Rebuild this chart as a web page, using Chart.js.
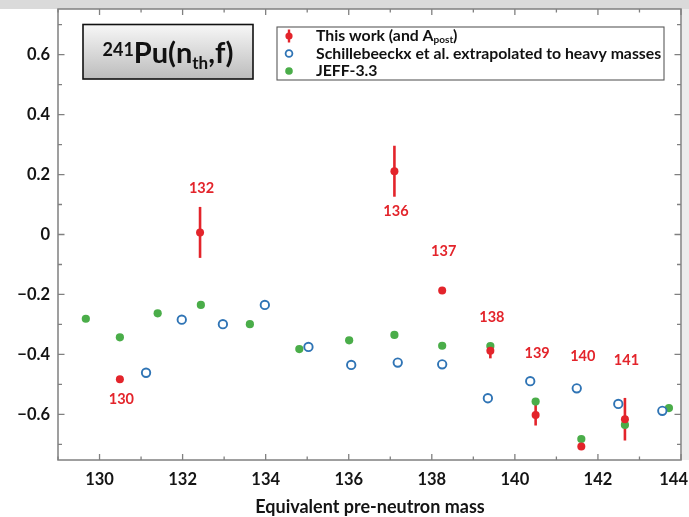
<!DOCTYPE html>
<html><head><meta charset="utf-8">
<script src="https://cdn.jsdelivr.net/npm/chart.js@4.4.1/dist/chart.umd.min.js"></script>
<style>html,body{margin:0;padding:0;background:#fff;overflow:hidden}#c{display:block}</style>
</head><body>
<canvas id="c" width="689" height="517"></canvas>
<script>
// ---- data ----
const thisWorkLabel = 'This work (and A_post)';
const thisWorkMass  = [130.49, 132.42, 137.10, 138.25, 139.41, 140.50, 141.60, 142.65];
const thisWorkValue = [-0.483, 0.007, 0.211, -0.187, -0.388, -0.602, -0.707, -0.616];
const thisWorkError = [0.006, 0.085, 0.085, 0.008, 0.025, 0.035, 0.008, 0.071];
const apostText     = ['130', '132', '136', '137', '138', '139', '140', '141'];
const apostLabelY   = [-0.549, 0.154, 0.076, -0.055, -0.277, -0.396, -0.407, -0.421];

const schLabel = 'Schillebeeckx et al. extrapolated to heavy masses';
const schMass  = [131.12, 131.98, 132.97, 133.98, 135.03, 136.06, 137.18, 138.25, 139.35, 140.37, 141.49, 142.49, 143.55];
const schValue = [-0.461, -0.284, -0.299, -0.235, -0.375, -0.435, -0.427, -0.433, -0.546, -0.489, -0.513, -0.565, -0.588];

const jeffLabel = 'JEFF-3.3';
const jeffMass  = [129.67, 130.49, 131.40, 132.44, 133.62, 134.81, 136.01, 137.10, 138.25, 139.41, 140.50, 141.60, 142.65, 143.71];
const jeffValue = [-0.281, -0.343, -0.263, -0.235, -0.299, -0.382, -0.353, -0.335, -0.371, -0.372, -0.557, -0.682, -0.635, -0.579];

const xTickValues = [130, 132, 134, 136, 138, 140, 142, 144];
const xTickLabels = ['130', '132', '134', '136', '138', '140', '142', '144'];
const yTickValues = [-0.6, -0.4, -0.2, 0, 0.2, 0.4, 0.6];
const yTickLabels = ['\u22120.6', '\u22120.4', '\u22120.2', '0', '0.2', '0.4', '0.6'];
const xAxisTitle = 'Equivalent pre-neutron mass';
const titleParts = [['241', 'sup'], ['Pu(n', 'main'], ['th', 'sub'], [',f)', 'main']];

// ---- style ----
const FONT = 'Lato, "Open Sans", "DejaVu Sans", sans-serif';
const RED = '#e3242b', BLUE = '#2f74b5', GREEN = '#4aad49', AXIS = '#808080', TXT = '#141414';

const pts = (xs, ys) => xs.map((x, i) => ({x: x, y: ys[i]}));

const deco = {
  id: 'deco',
  beforeDraw(chart) {
    const {ctx, width, height, chartArea: a} = chart;
    ctx.save();
    ctx.fillStyle = '#fff'; ctx.fillRect(0, 0, width, height);
    ctx.fillStyle = '#dadada'; ctx.fillRect(0, 0, width, a.top);
    ctx.fillStyle = '#ececec'; ctx.fillRect(a.right + 1, a.top, width - a.right, a.bottom - a.top);
    ctx.restore();
  },
  beforeDatasetsDraw(chart) {
    const {ctx} = chart, xs = chart.scales.x, ys = chart.scales.y;
    ctx.save();
    ctx.strokeStyle = RED; ctx.lineWidth = 2.6;
    thisWorkMass.forEach((m, i) => {
      const px = xs.getPixelForValue(m);
      ctx.beginPath();
      ctx.moveTo(px, ys.getPixelForValue(thisWorkValue[i] + thisWorkError[i]));
      ctx.lineTo(px, ys.getPixelForValue(thisWorkValue[i] - thisWorkError[i]));
      ctx.stroke();
    });
    ctx.restore();
  },
  afterDatasetsDraw(chart) {
    const {ctx} = chart, xs = chart.scales.x, ys = chart.scales.y;
    ctx.save();
    ctx.fillStyle = RED; ctx.font = 'bold 14.5px ' + FONT;
    ctx.textAlign = 'center'; ctx.textBaseline = 'middle';
    apostText.forEach((t, i) => {
      ctx.fillText(t, xs.getPixelForValue(thisWorkMass[i]) + 1.5, ys.getPixelForValue(apostLabelY[i]));
    });
    ctx.restore();
  },
  afterDraw(chart) {
    const {ctx, chartArea: a} = chart, xs = chart.scales.x, ys = chart.scales.y;
    ctx.save();
    // frame
    ctx.strokeStyle = AXIS; ctx.lineWidth = 1.5;
    ctx.strokeRect(a.left, a.top, a.right - a.left, a.bottom - a.top);
    // inward ticks
    ctx.lineWidth = 1.3;
    for (let v = Math.ceil(xs.min); v <= xs.max + 1e-9; v += 1) {
      const px = xs.getPixelForValue(v), L = (v % 2 === 0) ? 6 : 3.5;
      ctx.beginPath();
      ctx.moveTo(px, a.bottom); ctx.lineTo(px, a.bottom - L);
      ctx.moveTo(px, a.top); ctx.lineTo(px, a.top + L);
      ctx.stroke();
    }
    for (let k = -7; k <= 7; k++) {
      const py = ys.getPixelForValue(k / 10), L = (k % 2 === 0) ? 6.5 : 4;
      ctx.beginPath();
      ctx.moveTo(a.left, py); ctx.lineTo(a.left + L, py);
      ctx.moveTo(a.right, py); ctx.lineTo(a.right - L, py);
      ctx.stroke();
    }
    // x tick labels
    ctx.fillStyle = TXT; ctx.font = 'bold 16.5px ' + FONT;
    ctx.textAlign = 'center'; ctx.textBaseline = 'alphabetic';
    xTickValues.forEach((v, i) => {
      let px = xs.getPixelForValue(v);
      const w = ctx.measureText(xTickLabels[i]).width;
      if (px + w / 2 > chart.width - 1) px = chart.width - 1 - w / 2;
      ctx.fillText(xTickLabels[i], px, 484.5);
    });
    // x axis title
    ctx.font = 'bold 18px ' + FONT;
    ctx.fillText(xAxisTitle, 370, 513);

    // title box
    const bx = 83, by = 24.5, bw = 170, bh = 54.5;
    const g = ctx.createLinearGradient(0, by, 0, by + bh);
    g.addColorStop(0, '#f7f7f7'); g.addColorStop(1, '#bcbcbc');
    ctx.fillStyle = g; ctx.fillRect(bx, by, bw, bh);
    ctx.strokeStyle = '#111'; ctx.lineWidth = 1.6; ctx.strokeRect(bx, by, bw, bh);
    const fonts = {main: 'bold 29px ' + FONT, sup: 'bold 18px ' + FONT, sub: 'bold 17px ' + FONT};
    const base = by + 38.5, dy = {main: 0, sup: -7.5, sub: 5.5};
    let total = 0;
    titleParts.forEach(p => { ctx.font = fonts[p[1]]; total += ctx.measureText(p[0]).width; });
    let tx = bx + (bw - total) / 2;
    ctx.fillStyle = '#111'; ctx.textAlign = 'left';
    titleParts.forEach(p => {
      ctx.font = fonts[p[1]];
      ctx.fillText(p[0], tx, base + dy[p[1]]);
      tx += ctx.measureText(p[0]).width;
    });

    // legend box
    const lx = 277, ly = 27, lw = 387, lh = 53;
    ctx.fillStyle = '#fff'; ctx.fillRect(lx, ly, lw, lh);
    ctx.strokeStyle = '#5a5a5a'; ctx.lineWidth = 1.1; ctx.strokeRect(lx, ly, lw, lh);
    const rows = [36, 53.5, 71], mx = 289, textX = 316;
    chart.data.datasets.forEach((ds, i) => {
      const y = rows[i];
      if (i === 0) {
        ctx.strokeStyle = RED; ctx.lineWidth = 2.4;
        ctx.beginPath(); ctx.moveTo(mx, y - 6.5); ctx.lineTo(mx, y + 6.5); ctx.stroke();
        ctx.fillStyle = RED; ctx.beginPath(); ctx.arc(mx, y, 3.6, 0, Math.PI * 2); ctx.fill();
      } else if (i === 1) {
        ctx.strokeStyle = BLUE; ctx.lineWidth = 1.8;
        ctx.beginPath(); ctx.arc(mx, y, 3.4, 0, Math.PI * 2); ctx.stroke();
      } else {
        ctx.fillStyle = GREEN; ctx.beginPath(); ctx.arc(mx, y, 3.8, 0, Math.PI * 2); ctx.fill();
      }
      ctx.fillStyle = '#111'; ctx.textBaseline = 'middle';
      const parts = ds.label.split('_');
      let x = textX;
      ctx.font = 'bold 15.8px ' + FONT;
      ctx.fillText(parts[0], x, y);
      if (parts.length > 1) {
        x += ctx.measureText(parts[0]).width;
        const m = parts[1].match(/^([a-z]+)(.*)$/);
        ctx.font = 'bold 10px ' + FONT;
        ctx.fillText(m[1], x, y + 3.5);
        x += ctx.measureText(m[1]).width;
        ctx.font = 'bold 15.8px ' + FONT;
        ctx.fillText(m[2], x, y);
      }
    });
    ctx.restore();
  }
};

new Chart(document.getElementById('c'), {
  type: 'scatter',
  data: {
    datasets: [
      {label: thisWorkLabel, data: pts(thisWorkMass, thisWorkValue), pointRadius: 4, pointHoverRadius: 4,
       backgroundColor: RED, borderColor: RED, borderWidth: 0},
      {label: schLabel, data: pts(schMass, schValue), pointRadius: 4.2, pointHoverRadius: 4.2,
       backgroundColor: '#fff', borderColor: BLUE, borderWidth: 1.9},
      {label: jeffLabel, data: pts(jeffMass, jeffValue), pointRadius: 4.1, pointHoverRadius: 4.1,
       backgroundColor: GREEN, borderColor: GREEN, borderWidth: 0}
    ]
  },
  options: {
    responsive: false, animation: false, events: [],
    layout: {padding: {left: 0, right: 8, top: 9, bottom: 0}},
    plugins: {legend: {display: false}, tooltip: {enabled: false}},
    scales: {
      x: {
        type: 'linear', min: 129, max: 144,
        grid: {display: false, drawTicks: false}, border: {display: false},
        ticks: {display: false},
        afterBuildTicks: s => { s.ticks = xTickValues.map(v => ({value: v})); },
        afterFit: s => { s.height = 57; s.paddingLeft = 0; s.paddingRight = 0; }
      },
      y: {
        type: 'linear', min: -0.752, max: 0.752,
        grid: {display: false, drawTicks: false}, border: {display: false},
        ticks: {padding: 8, color: TXT, font: {family: FONT, size: 16.5, weight: 'bold'},
                callback: (v, i) => yTickLabels[i]},
        afterBuildTicks: s => { s.ticks = yTickValues.map(v => ({value: v})); },
        afterFit: s => { s.width = 58; s.paddingTop = 0; s.paddingBottom = 0; }
      }
    }
  },
  plugins: [deco]
});
</script>
</body></html>
